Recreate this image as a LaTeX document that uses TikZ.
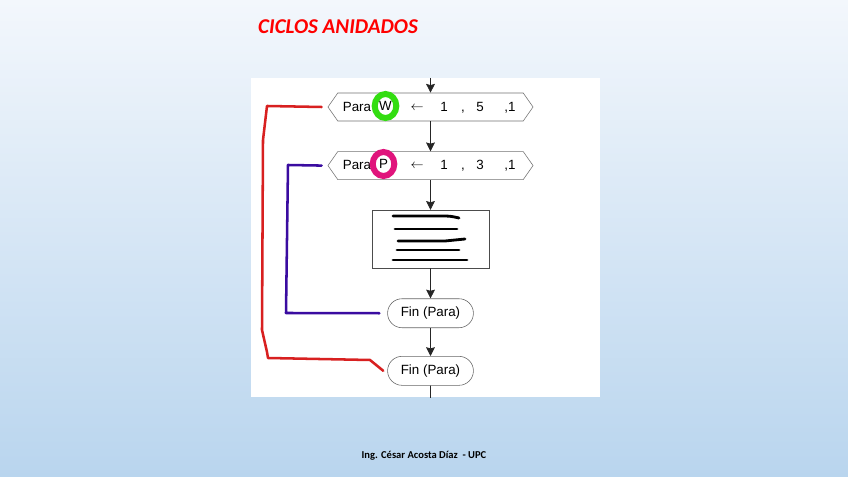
\documentclass[tikz,border=0pt]{standalone}
\usepackage{fontspec}
\newfontfamily\calibri{Carlito}
\newfontfamily\arial{Liberation Sans}
\usetikzlibrary{positioning,arrows.meta,shapes.geometric,shapes.misc,shapes.symbols}
\definecolor{fondoA}{HTML}{F3F7FC}
\definecolor{fondoB}{HTML}{B9D5EE}
\definecolor{rojo}{HTML}{D82020}
\definecolor{azul}{HTML}{3A0CA0}
\definecolor{verde}{HTML}{33DD11}
\definecolor{fucsia}{HTML}{E0147C}
\tikzset{
  para/.style={signal,signal to=west and east,signal pointer angle=110,draw=black!55,fill=white,minimum width=51.25mm,minimum height=7mm,inner sep=0pt},
  bloque/.style={rectangle,draw=black!70,fill=white,minimum width=29.25mm,minimum height=14.5mm},
  fin/.style={rounded rectangle,draw=black!60,fill=white,minimum width=23.8mm,minimum height=7.25mm,font=\arial\fontsize{9.5}{11}\selectfont},
  txt/.style={inner sep=0pt,anchor=base,font=\arial\fontsize{9.5}{11}\selectfont},
  marca/.style={ellipse,line width=1.5mm,fill=white,minimum width=5.4mm,minimum height=6mm,inner sep=0pt,font=\arial\fontsize{9.5}{11}\selectfont},
  flujo/.style={-{Stealth[length=2.2mm,width=2.2mm,inset=0.3mm]},black!85,line width=0.5pt},
  lazo/.style={line width=1.8pt,line join=round,line cap=round},
  raya/.style={line width=2pt,line cap=round},
}
\begin{document}
\begin{tikzpicture}[x=0.025cm,y=-0.025cm,node distance=7.5mm]
  \useasboundingbox (0,0) rectangle (848,477);
  \shade[top color=fondoA,bottom color=fondoB] (0,0) rectangle (848,477);
  \fill[white] (251,78) rectangle (600,397);
  \node[font=\calibri\bfseries\itshape\fontsize{15}{17}\selectfont,text=red] (titulo) at (338,27) {CICLOS ANIDADOS};
  \node[font=\calibri\bfseries\fontsize{7.5}{9}\selectfont] (pie) at (424,456) {Ing. César Acosta Díaz\ \ - UPC};
  % flujo
  \coordinate (entrada) at (430.5,78);
  \coordinate (salida) at (430.5,398);
  \node[para] (pw) at (430.5,107) {};
  \node[para] (pp) [below=of pw] {};
  \node[bloque] (cuerpo) [below=of pp] {};
  \node[fin] (fin1) [below=of cuerpo] {Fin (Para)};
  \node[fin] (fin2) [below=7mm of fin1] {Fin (Para)};
  \draw[flujo] (entrada) -- (pw);
  \draw[flujo] (pw) -- (pp);
  \draw[flujo] (pp) -- (cuerpo);
  \draw[flujo] (cuerpo) -- (fin1);
  \draw[flujo] (fin1) -- (fin2);
  \draw[black!85,line width=0.5pt] (fin2) -- (salida);
  % textos de los ciclos
  \node[txt] (pw1) at (357,112) {Para};
  \node[marca,draw=verde] (w) at (385.5,106) {W};
  \node[txt] (pw2) at (417,111) {$\leftarrow$};
  \node[txt] (pw3) at (444,112) {1};
  \node[txt] (pw4) at (463,112) {,};
  \node[txt] (pw5) at (480,112) {5};
  \node[txt] (pw6) at (510,112) {,1};
  \node[txt] (pp1) at (357,170) {Para};
  \node[marca,draw=fucsia] (p) at (383.5,164) {P};
  \node[txt] (pp2) at (417,169) {$\leftarrow$};
  \node[txt] (pp3) at (444,170) {1};
  \node[txt] (pp4) at (463,170) {,};
  \node[txt] (pp5) at (480,170) {3};
  \node[txt] (pp6) at (510,170) {,1};
  % garabatos del cuerpo
  \draw[raya] (393,216) -- (440,216) .. controls (450,216) .. (459,218);
  \draw[raya] (395,229) -- (457,229);
  \draw[raya] (398,241) -- (445,241) .. controls (455,240) .. (465,239);
  \draw[raya] (397,250) -- (459,250);
  \draw[raya] (393,260) -- (467,260);
  % lazos
  \draw[lazo,rojo] ([xshift=-1.5mm]pw.west) -- (267,106) -- (263,140) -- (262,330) -- (267,352) -- (268,358) -- (370,360) -- ([xshift=-1mm]fin2.west);
  \draw[lazo,azul] ([xshift=-1.5mm]pp.west) -- (288,165) -- (286,313) -- ([xshift=-2mm]fin1.west);
\end{tikzpicture}
\end{document}
